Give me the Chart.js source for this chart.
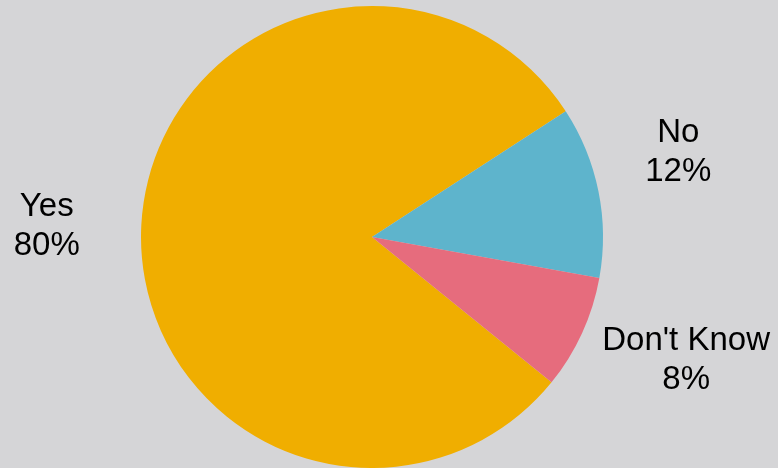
<!DOCTYPE html>
<html>
<head>
<meta charset="utf-8">
<script src="https://cdn.jsdelivr.net/npm/chart.js@4"></script>
<style>
  html, body { margin: 0; padding: 0; background: #d5d5d7; }
  #wrap { width: 778px; height: 468px; }
</style>
</head>
<body>
<div id="wrap"><canvas id="pieChart"></canvas></div>
<script>
// answers and their share of responses (%)
const answers = ["Yes", "No", "Don't Know"];
const shares = [80, 12, 8];
const sliceColors = ["#f0ae00", "#5eb4cc", "#e66c7d"];

// small nudges so the labels sit where the original put them
const labelNudge = [[0, 4], [-13, -23], [18, -15]];

// draw "label / value%" outside each slice
const outsideLabels = {
  id: "outsideLabels",
  afterDatasetsDraw(chart) {
    const ctx = chart.ctx;
    const meta = chart.getDatasetMeta(0);
    ctx.save();
    ctx.font = "33px 'Liberation Sans', Arial, sans-serif";
    ctx.fillStyle = "#000";
    ctx.textAlign = "center";
    ctx.textBaseline = "alphabetic";
    meta.data.forEach((arc, i) => {
      const p = arc.getProps(["x", "y", "startAngle", "endAngle", "outerRadius"], true);
      const mid = (p.startAngle + p.endAngle) / 2;
      const d = p.outerRadius * 1.41;
      const x = p.x + Math.cos(mid) * d + labelNudge[i][0];
      const y = p.y + Math.sin(mid) * d + labelNudge[i][1];
      ctx.fillText(answers[i], x, y - 19.5 + 12);
      ctx.fillText(shares[i] + "%", x, y + 19.5 + 12);
    });
    ctx.restore();
  }
};

new Chart(document.getElementById("pieChart"), {
  type: "pie",
  data: {
    labels: answers,
    datasets: [{
      data: shares,
      backgroundColor: sliceColors,
      borderWidth: 0
    }]
  },
  options: {
    responsive: true,
    maintainAspectRatio: false,
    animation: false,
    rotation: 129,
    layout: { padding: { top: 6, bottom: 0, left: 0, right: 34 } },
    plugins: {
      legend: { display: false },
      tooltip: { enabled: false }
    }
  },
  plugins: [outsideLabels]
});
</script>
</body>
</html>
